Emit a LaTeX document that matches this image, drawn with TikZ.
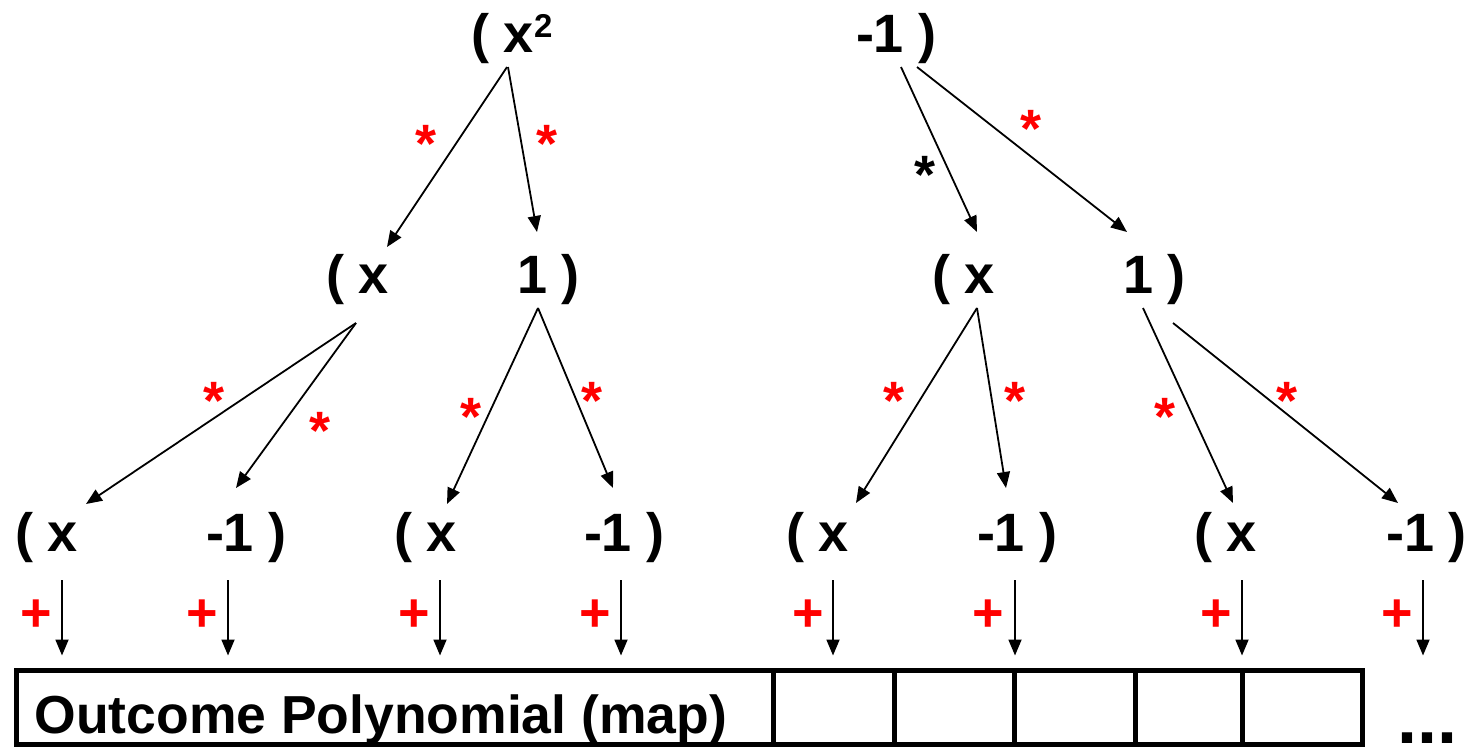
\documentclass[tikz,border=0pt]{standalone}
\usepackage{fontspec}
\setmainfont{Liberation Sans}
\usetikzlibrary{arrows.meta,calc}
\begin{document}
\begin{tikzpicture}[x=1pt,y=-1pt,
  txt/.style={inner sep=0,outer sep=0,anchor=base west,font=\bfseries\fontsize{54}{60}\selectfont},
  op/.style={inner sep=0,outer sep=0,anchor=base,font=\bfseries\fontsize{54}{60}\selectfont,text=red},
  opk/.style={op,text=black},
  arr/.style={line width=1.8pt,-{Triangle[length=16pt,width=13pt]}},
  cellline/.style={line width=5pt}]
\useasboundingbox (0,0) rectangle (1474,747);
% tree text
\node[txt] (t1) at (471,52) {( x\raisebox{15pt}{\fontsize{33}{33}\selectfont 2}};
\node[txt] (t2) at (856,52) {-1 )};
\node[txt] (m1) at (326,293) {( x};
\node[txt] (m2) at (517,293) {1 )};
\node[txt] (m3) at (932,293) {( x};
\node[txt] (m4) at (1123,293) {1 )};
\node[txt] (l1) at (15,551) {( x};
\node[txt] (l2) at (206,551) {-1 )};
\node[txt] (l3) at (394,551) {( x};
\node[txt] (l4) at (584,551) {-1 )};
\node[txt] (l5) at (786,551) {( x};
\node[txt] (l6) at (977,551) {-1 )};
\node[txt] (l7) at (1194,551) {( x};
\node[txt] (l8) at (1386,551) {-1 )};
% tree arrows
\draw[arr] ($(t1.base west)+(36,15)$) -- ($(m1.base west)+(61,-46)$);
\draw[arr] ($(t1.base west)+(37,15)$) -- ($(m2.base west)+(20,-61)$);
\draw[arr] ($(t2.base west)+(45,15)$) -- ($(m3.base west)+(45,-61)$);
\draw[arr] ($(t2.base west)+(61,15)$) -- ($(m4.base west)+(4,-61)$);
\draw[arr] ($(m1.base west)+(30,30)$) -- ($(l1.base west)+(71,-47)$);
\draw[arr] ($(m1.base west)+(30,30)$) -- ($(l2.base west)+(30,-63)$);
\draw[arr] ($(m2.base west)+(21,15)$) -- ($(l3.base west)+(53,-47)$);
\draw[arr] ($(m2.base west)+(21,15)$) -- ($(l4.base west)+(29,-63)$);
\draw[arr] ($(m3.base west)+(45,15)$) -- ($(l5.base west)+(70,-48)$);
\draw[arr] ($(m3.base west)+(45,15)$) -- ($(l6.base west)+(29,-63)$);
\draw[arr] ($(m4.base west)+(20,15)$) -- ($(l7.base west)+(39,-48)$);
\draw[arr] ($(m4.base west)+(50,30)$) -- ($(l8.base west)+(12,-48)$);
% operator labels
\node[op] (s1) at (426,162) {*};
\node[op] (s2) at (547,162) {*};
\node[opk] (s3) at (925,193) {*};
\node[op] (s4) at (1031,147) {*};
\node[op] (s5) at (214,419) {*};
\node[op] (s6) at (320,449) {*};
\node[op] (s7) at (471,435) {*};
\node[op] (s8) at (592,419) {*};
\node[op] (s9) at (894,419) {*};
\node[op] (s10) at (1015,419) {*};
\node[op] (s11) at (1165,435) {*};
\node[op] (s12) at (1287,419) {*};
% outcome box
\node[draw,line width=5pt,inner sep=0,outer sep=0,minimum width=1346pt,minimum height=74pt,anchor=north west] (box) at (16.5,670.5) {};
\foreach \dx in {756.5,877.5,998,1119,1225.5}
  \draw[cellline] ([xshift=\dx pt]box.north west) -- ([xshift=\dx pt]box.south west);
\node[txt,font=\bfseries\fontsize{53.5}{60}\selectfont] (otext) at (34.5,733) {Outcome Polynomial (map)};
\node[txt,font=\bfseries\fontsize{72}{80}\selectfont] (dots) at (1397,743) {...};
% plus arrows
\draw[arr] ($(l1.base west)+(47,29)$) -- ($(l1.base west |- box.north)+(47,-15)$);
\draw[arr] ($(l2.base west)+(22,29)$) -- ($(l2.base west |- box.north)+(22,-15)$);
\draw[arr] ($(l3.base west)+(46,29)$) -- ($(l3.base west |- box.north)+(46,-15)$);
\draw[arr] ($(l4.base west)+(37,29)$) -- ($(l4.base west |- box.north)+(37,-15)$);
\draw[arr] ($(l5.base west)+(47,29)$) -- ($(l5.base west |- box.north)+(47,-15)$);
\draw[arr] ($(l6.base west)+(38,29)$) -- ($(l6.base west |- box.north)+(38,-15)$);
\draw[arr] ($(l7.base west)+(48,29)$) -- ($(l7.base west |- box.north)+(48,-15)$);
\draw[arr] ($(l8.base west)+(37,29)$) -- ($(l8.base west |- box.north)+(37,-15)$);
\node[op] (p1) at (36,631) {+};
\node[op] (p2) at (202,631) {+};
\node[op] (p3) at (414,631) {+};
\node[op] (p4) at (595,631) {+};
\node[op] (p5) at (808,631) {+};
\node[op] (p6) at (988,631) {+};
\node[op] (p7) at (1216,631) {+};
\node[op] (p8) at (1397,631) {+};
\end{tikzpicture}
\end{document}
